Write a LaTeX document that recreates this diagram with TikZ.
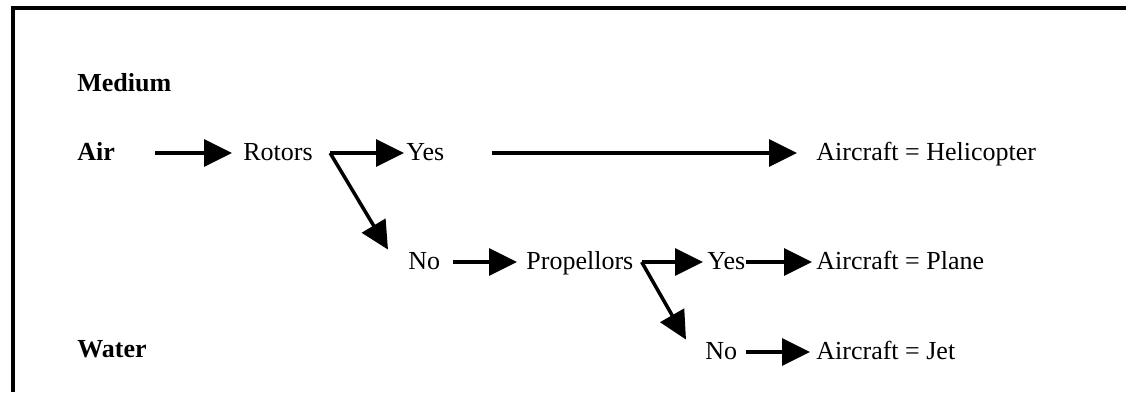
\documentclass[tikz,border=0pt]{standalone}
\usepackage{fontspec}
\setmainfont{Liberation Serif}
\usetikzlibrary{arrows.meta}

\begin{document}
\begin{tikzpicture}[x=0.5pt, y=-0.5pt]
            \tikzstyle{txt} = [inner sep=0pt, anchor=base west, text height=9.5pt, text depth=2.5pt, font=\fontsize{13}{15}\selectfont]
            \tikzstyle{hd} = [txt, font=\fontsize{13}{15}\selectfont\bfseries]
            \tikzstyle{flow} = [line width=1.75pt, -{Triangle[length=14pt, width=13.5pt]}]
            \useasboundingbox (0, 0) rectangle (1126, 392);
            % open frame: left and top sides only
            \draw[line width=1.75pt] (13, 392) -- (13, 8) -- (1126, 8);
            % medium column
            \node[hd] (medium) at (77, 91) {Medium};
            \node[hd] (air) at (77, 160) {Air};
            \node[hd] (water) at (77, 357) {Water};
            % rotors branch
            \node[txt] (rotors) at (243, 160) {Rotors};
            \node[txt] (yes1) at (406, 160) {Yes};
            \node[txt] (heli) at (816, 160) {Aircraft = Helicopter};
            \node[txt] (no1) at (408, 269) {No};
            % propellors branch
            \node[txt] (prop) at (526, 269) {Propellors};
            \node[txt] (yes2) at (707, 269) {Yes};
            \node[txt] (plane) at (816, 269) {Aircraft = Plane};
            \node[txt] (no2) at (705, 359) {No};
            \node[txt] (jet) at (816, 359) {Aircraft = Jet};
            \coordinate (rfork) at ([xshift=8.5pt]rotors.east);
            \coordinate (pfork) at ([xshift=4pt]prop.east);
            \draw[flow, shorten <=20pt, shorten >=5.5pt] (air.east) -- (rotors.west);
            \draw[flow, shorten >=1pt] (rfork) -- (yes1.west);
            \draw[flow, shorten <=23.5pt, shorten >=9.5pt] (yes1.east) -- (heli.west);
            \draw[flow] (rfork) -- ([xshift=-10pt]no1.north west);
            \draw[flow, shorten <=6pt, shorten >=4.5pt] (no1.east) -- (prop.west);
            \draw[flow, shorten >=2pt] (pfork) -- (yes2.west);
            \draw[flow, shorten >=2pt] (yes2.east) -- (plane.west);
            \draw[flow] (pfork) -- ([xshift=-9.5pt]no2.north west);
            \draw[flow, shorten <=4pt, shorten >=3pt] (no2.east) -- (jet.west);
        \end{tikzpicture}
\end{document}
